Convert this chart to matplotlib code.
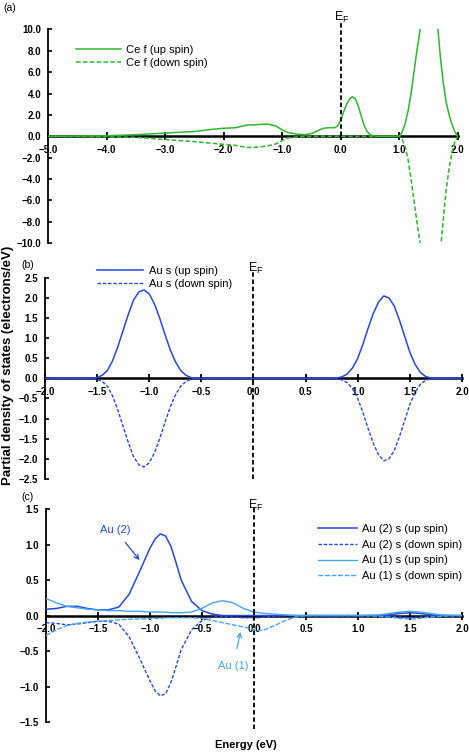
import matplotlib
matplotlib.use("Agg")
import matplotlib.pyplot as plt
import numpy as np

plt.rcParams['font.family'] = ['Liberation Sans', 'DejaVu Sans']

# ---- panel (a): Ce f ----
ce_x = [-5.0, -4.5, -4.0, -3.5, -3.0, -2.5, -2.2, -2.0, -1.8, -1.6, -1.4, -1.25,
        -1.1, -1.0, -0.9, -0.75, -0.6, -0.5, -0.4, -0.3, -0.2, -0.1, -0.05, 0.0,
        0.05, 0.1, 0.15, 0.2, 0.25, 0.3, 0.35, 0.4, 0.45, 0.5, 0.6, 0.8, 1.0,
        1.05, 1.1, 1.15, 1.2, 1.25, 1.3, 1.35, 1.4, 1.5, 1.6, 1.65, 1.7, 1.75,
        1.8, 1.85, 1.9, 1.95, 2.0]
ce_up = [0.0, 0.02, 0.05, 0.15, 0.3, 0.45, 0.65, 0.75, 0.8, 1.05, 1.1, 1.15,
         0.95, 0.6, 0.35, 0.2, 0.15, 0.25, 0.5, 0.75, 0.8, 0.8, 1.0, 1.5,
         2.3, 3.0, 3.5, 3.7, 3.5, 2.8, 1.9, 1.0, 0.45, 0.15, 0.0, 0.0, 0.0,
         0.4, 1.2, 2.4, 4.0, 6.0, 8.0, 9.8, 14.0, 30.0, 14.0, 10.5, 7.5, 5.0,
         3.2, 2.0, 1.1, 0.4, 0.0]
ce_dn = [0.0, -0.01, -0.03, -0.1, -0.3, -0.5, -0.65, -0.75, -0.85, -1.05, -1.0, -0.9,
         -0.7, -0.4, -0.15, -0.05, 0.0, 0.0, 0.0, 0.0, 0.0, 0.0, 0.0, 0.0,
         0.0, 0.0, 0.0, 0.0, 0.0, 0.0, 0.0, 0.0, 0.0, 0.0, 0.0, 0.0, 0.0,
         -0.3, -1.0, -2.2, -4.0, -6.0, -8.0, -9.8, -14.0, -30.0, -18.0, -13.0, -10.8, -7.8,
         -5.0, -3.0, -1.5, -0.5, 0.0]

# ---- panel (b): Au s ----
au_x = [-2.0, -1.6, -1.55, -1.5, -1.45, -1.4, -1.35, -1.3, -1.25, -1.2, -1.15, -1.1,
        -1.05, -1.0, -0.95, -0.9, -0.85, -0.8, -0.75, -0.7, -0.65, -0.6, -0.55,
        0.0, 0.75, 0.8, 0.85, 0.9, 0.95, 1.0, 1.05, 1.1, 1.15, 1.2, 1.25, 1.3,
        1.35, 1.4, 1.45, 1.5, 1.55, 1.6, 1.65, 1.7, 1.75, 2.0]
au_up = [0.0, 0.0, 0.005, 0.02, 0.08, 0.2, 0.45, 0.8, 1.2, 1.6, 1.95, 2.15,
         2.2, 2.1, 1.85, 1.5, 1.1, 0.72, 0.42, 0.2, 0.08, 0.02, 0.0,
         0.0, 0.0, 0.01, 0.04, 0.11, 0.26, 0.5, 0.85, 1.25, 1.62, 1.9, 2.05, 2.0,
         1.8, 1.45, 1.05, 0.65, 0.35, 0.15, 0.05, 0.01, 0.0, 0.0]
au_dn = [-0.0, -0.0, -0.005, -0.02, -0.08, -0.2, -0.45, -0.8, -1.2, -1.6, -1.95, -2.15,
         -2.2, -2.1, -1.85, -1.5, -1.1, -0.72, -0.42, -0.2, -0.08, -0.02, -0.0,
         -0.0, -0.0, -0.01, -0.04, -0.11, -0.26, -0.5, -0.85, -1.25, -1.62, -1.9, -2.05, -2.0,
         -1.8, -1.45, -1.05, -0.65, -0.35, -0.15, -0.05, -0.01, -0.0, -0.0]

# ---- panel (c): Au(2) and Au(1) s ----
c_x = [-2.0, -1.9, -1.8, -1.7, -1.6, -1.5, -1.4, -1.3, -1.2, -1.1, -1.0, -0.95,
       -0.9, -0.85, -0.8, -0.75, -0.7, -0.6, -0.5, -0.4, -0.3, -0.2, -0.1, 0.0,
       0.05, 0.1, 0.2, 0.3, 0.4, 0.5, 1.0, 1.2, 1.3, 1.4, 1.5, 1.6, 1.7, 1.8, 2.0]
au2_up = [0.09, 0.1, 0.13, 0.13, 0.1, 0.08, 0.08, 0.12, 0.3, 0.62, 0.95, 1.08,
          1.15, 1.12, 0.98, 0.75, 0.5, 0.2, 0.07, 0.02, 0.0, 0.0, 0.0, 0.0,
          0.0, 0.0, 0.0, 0.0, 0.0, 0.0, 0.0, 0.0, 0.01, 0.03, 0.04, 0.03, 0.01, 0.0, 0.0]
au2_dn = [-0.1, -0.11, -0.13, -0.12, -0.1, -0.08, -0.08, -0.12, -0.3, -0.6, -0.92, -1.06,
          -1.13, -1.1, -0.95, -0.72, -0.48, -0.2, -0.07, -0.02, -0.01, -0.02, -0.03, -0.03,
          -0.03, -0.02, -0.01, 0.0, 0.0, 0.0, 0.0, 0.0, -0.01, -0.02, -0.03, -0.02, -0.01, 0.0, 0.0]
au1_up = [0.24, 0.18, 0.13, 0.11, 0.09, 0.08, 0.07, 0.07, 0.06, 0.06, 0.05, 0.05,
          0.05, 0.05, 0.04, 0.04, 0.04, 0.05, 0.1, 0.18, 0.21, 0.18, 0.1, 0.05,
          0.04, 0.03, 0.02, 0.01, 0.0, 0.0, 0.0, 0.01, 0.03, 0.05, 0.06, 0.05, 0.03, 0.01, 0.0]
au1_dn = [-0.28, -0.2, -0.14, -0.11, -0.09, -0.08, -0.07, -0.06, -0.05, -0.05, -0.04, -0.04,
          -0.04, -0.03, -0.03, -0.03, -0.03, -0.03, -0.04, -0.07, -0.1, -0.13, -0.16, -0.2,
          -0.21, -0.2, -0.14, -0.07, -0.02, 0.0, 0.0, -0.01, -0.02, -0.04, -0.05, -0.04, -0.02, -0.01, 0.0]

green = '#2db82d'
dblue = '#2648e0'
lblue = '#45a6f2'

fig = plt.figure(figsize=(4.69, 7.53), dpi=100)
ax_a = fig.add_axes([0.1023, 0.677, 0.874, 0.284])
ax_b = fig.add_axes([0.096, 0.364, 0.889, 0.267])
ax_c = fig.add_axes([0.098, 0.041, 0.887, 0.283])


def style(ax, xlim, ylim, xstep, ystep):
    ax.set_xlim(*xlim)
    ax.set_ylim(*ylim)
    ax.spines['top'].set_visible(False)
    ax.spines['right'].set_visible(False)
    ax.spines['bottom'].set_position(('data', 0))
    ax.spines['bottom'].set_linewidth(1.8)
    ax.spines['left'].set_linewidth(1.3)
    ax.set_xticks(np.arange(xlim[0], xlim[1] + 1e-9, xstep))
    ax.set_yticks(np.arange(ylim[0], ylim[1] + 1e-9, ystep))
    ax.xaxis.set_major_formatter('{x:.1f}')
    ax.yaxis.set_major_formatter('{x:.1f}')
    ax.tick_params(axis='x', direction='inout', length=6, width=1.3, pad=3)
    ax.tick_params(axis='y', direction='in', length=3, width=1.2, pad=5)
    for lab in ax.get_xticklabels() + ax.get_yticklabels():
        lab.set_fontsize(7)
        lab.set_fontweight('bold')


def fermi(ax, y0, y1, label_y):
    ax.plot([0, 0], [y0, y1], color='black', ls=(0, (2.5, 1.5)), lw=1.3,
            clip_on=False, zorder=4)
    ax.text(0.02, label_y, r'E$_\mathregular{F}$', fontsize=9, ha='center',
            va='bottom', clip_on=False)


# (a)
ax_a.plot(ce_x, ce_up, color=green, lw=1.1, label='Ce f (up spin)', zorder=3)
ax_a.plot(ce_x, ce_dn, color=green, lw=1.1, ls=(0, (3, 1.5)),
          label='Ce f (down spin)', zorder=3)
style(ax_a, (-5.0, 2.0), (-10.0, 10.0), 1.0, 2.0)
fermi(ax_a, 0, 10.7, 10.45)
ax_a.legend(loc='upper left', bbox_to_anchor=(0.045, 0.975), frameon=False,
            fontsize=8, handlelength=4.0, handletextpad=0.5, labelspacing=0.3)

# (b)
ax_b.plot(au_x, au_up, color=dblue, lw=1.1, label='Au s (up spin)', zorder=3)
ax_b.plot(au_x, au_dn, color=dblue, lw=1.0, ls=(0, (2.5, 1.3)),
          label='Au s (down spin)', zorder=3)
style(ax_b, (-2.0, 2.0), (-2.5, 2.5), 0.5, 0.5)
fermi(ax_b, -2.5, 2.65, 2.55)
ax_b.legend(loc='upper left', bbox_to_anchor=(0.1, 1.11), frameon=False,
            fontsize=8, handlelength=4.2, handletextpad=0.5, labelspacing=0.3)

# (c)
ax_c.plot(c_x, au2_up, color=dblue, lw=1.1, label='Au (2) s (up spin)', zorder=3)
ax_c.plot(c_x, au2_dn, color=dblue, lw=1.0, ls=(0, (2.5, 1.3)),
          label='Au (2) s (down spin)', zorder=3)
ax_c.plot(c_x, au1_up, color=lblue, lw=1.0, label='Au (1) s (up spin)', zorder=3)
ax_c.plot(c_x, au1_dn, color=lblue, lw=1.0, ls=(0, (3.5, 1.2)),
          label='Au (1) s (down spin)', zorder=3)
style(ax_c, (-2.0, 2.0), (-1.5, 1.5), 0.5, 0.5)
fermi(ax_c, -1.6, 1.55, 1.45)
ax_c.legend(loc='upper left', bbox_to_anchor=(0.63, 0.975), frameon=False,
            fontsize=8, handlelength=3.5, handletextpad=0.5, labelspacing=0.5)
ax_c.annotate('Au (2)', xy=(-1.1, 0.78), xytext=(-1.33, 1.2), color=dblue,
              fontsize=8, ha='center', va='center',
              arrowprops=dict(arrowstyle='->', color=dblue, lw=0.9,
                              shrinkA=4, shrinkB=0))
ax_c.annotate('Au (1)', xy=(-0.13, -0.23), xytext=(-0.2, -0.71), color=lblue,
              fontsize=8, ha='center', va='center',
              arrowprops=dict(arrowstyle='->', color=lblue, lw=0.9,
                              shrinkA=7, shrinkB=0))

fig.text(0.008, 0.989, '(a)', fontsize=7.5, va='center')
fig.text(0.045, 0.648, '(b)', fontsize=7.5, va='center')
fig.text(0.045, 0.340, '(c)', fontsize=7.5, va='center')
fig.text(0.017, 0.515, 'Partial density of states (electrons/eV)', rotation=90,
         fontsize=9.5, fontweight='bold', ha='center', va='center')
fig.text(0.525, 0.011, 'Energy (eV)', fontsize=8, fontweight='bold',
         ha='center', va='center')

fig.savefig('out.png', dpi=100)
